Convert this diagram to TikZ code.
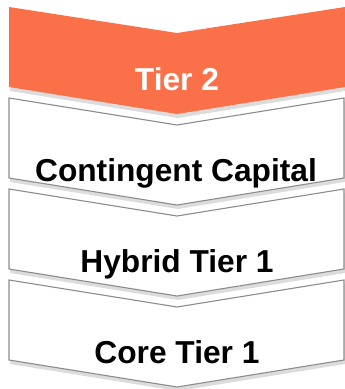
\documentclass[tikz,border=0pt]{standalone}
\usepackage{fontspec}
\setmainfont{Liberation Sans}
\usepackage{tikz}

\definecolor{tierorange}{HTML}{F97049}
\definecolor{tierline}{HTML}{8C8C8C}
\definecolor{tiershadow}{HTML}{DCDCDC}

% one downward chevron, #1 = y of its top corners
\newcommand{\chevron}[1]{(9,#1) -- (177,#1+27) -- (344,#1) -- (344,#1+80) -- (177,#1+107) -- (9,#1+80) -- cycle}

\begin{document}
\begin{tikzpicture}[
    x=1pt, y=-1pt,
    shadow/.style={fill=tiershadow, shift={(1,4)}},
    tierbox/.style={fill=white, draw=tierline, line width=1.1pt, line join=miter},
    label/.style={font=\fontsize{31.7}{33}\selectfont\bfseries, anchor=base}
]
\useasboundingbox (0,0) rectangle (345,389);

% tiers from the bottom up so upper shadows lie on lower boxes
\fill[shadow] \chevron{280};
\draw[tierbox] \chevron{280};
\fill[shadow] \chevron{189};
\draw[tierbox] \chevron{189};
\fill[shadow] \chevron{98};
\draw[tierbox] \chevron{98};
\fill[shadow] \chevron{7};
\fill[tierorange] (9,7) -- (177,33) -- (345,7) -- (345,87) -- (177,114) -- (9,87) -- cycle;

\node[label, text=white] (tiertwo) at (177,90) {Tier 2};
\node[label] (contingent) at (176,181) {Contingent Capital};
\node[label] (hybrid) at (177,272) {Hybrid Tier 1};
\node[label] (core) at (177,363) {Core Tier 1};
\end{tikzpicture}
\end{document}
